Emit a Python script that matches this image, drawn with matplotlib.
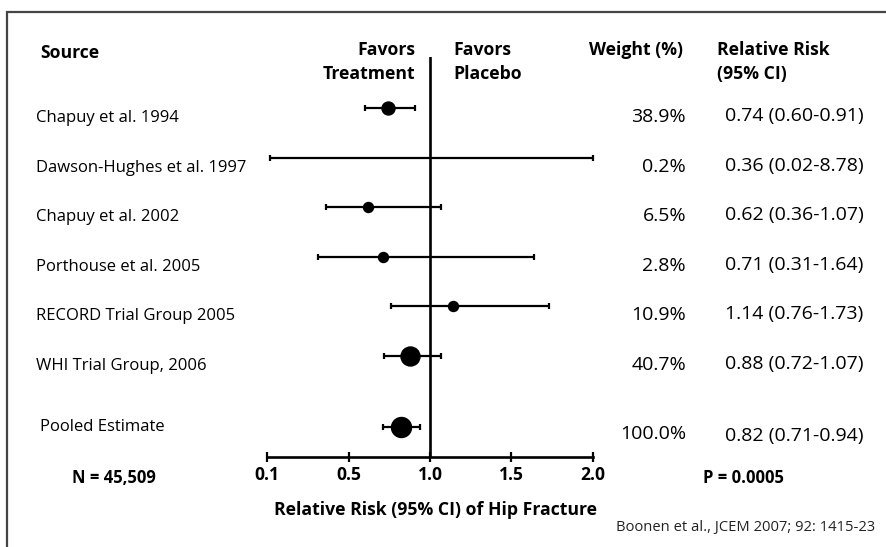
import matplotlib
matplotlib.use("Agg")
import matplotlib.pyplot as plt
from matplotlib.transforms import blended_transform_factory
from matplotlib.patches import Rectangle

# ---------------- data ----------------
sources = ["Chapuy et al. 1994", "Dawson-Hughes et al. 1997", "Chapuy et al. 2002",
           "Porthouse et al. 2005", "RECORD Trial Group 2005", "WHI Trial Group, 2006"]
rr = [0.74, 0.36, 0.62, 0.71, 1.14, 0.88]
ci_low = [0.60, 0.02, 0.36, 0.31, 0.76, 0.72]
ci_high = [0.91, 8.78, 1.07, 1.64, 1.73, 1.07]
weights = [38.9, 0.2, 6.5, 2.8, 10.9, 40.7]

pooled_label = "Pooled Estimate"
pooled_rr = 0.82
pooled_low = 0.71
pooled_high = 0.94
pooled_weight = 100.0

tick_values = [0.0, 0.5, 1.0, 1.5, 2.0]
tick_labels = ["0.1", "0.5", "1.0", "1.5", "2.0"]

n_text = "N = 45,509"
p_text = "P = 0.0005"
xlabel = "Relative Risk (95% CI) of Hip Fracture"
citation = "Boonen et al., JCEM 2007; 92: 1415-23"

# ---------------- style ----------------
marker_px = [13, 0, 10, 10, 10, 19]
pooled_marker_px = 20
FONT = "Open Sans"
plt.rcParams["font.family"] = [FONT, "DejaVu Sans"]

W, H = 887, 547
fig = plt.figure(figsize=(W / 100, H / 100), dpi=100)
fig.patch.set_facecolor("white")

def fx(x):
    return x / W

def fy(y):
    return 1 - y / H

# outer frame (only left and top visible in reference)
fig.patches.append(Rectangle((fx(7), fy(560)), fx(900 - 7), fy(12) - fy(560),
                             transform=fig.transFigure, fill=False,
                             edgecolor="#444444", linewidth=1.6))

ax_left, ax_right, ax_top, ax_bot = 267, 593, 57, 457
ax = fig.add_axes([fx(ax_left), fy(ax_bot), fx(ax_right - ax_left), (ax_bot - ax_top) / H])
ax.set_facecolor("none")

row_pitch = 49.6
pooled_pos = (427 - 108) / row_pitch
ax.set_xlim(0.0, 2.0)
ax.set_ylim((ax_bot - 108) / row_pitch, (ax_top - 108) / row_pitch)

lw = 1.6
for i in range(len(sources)):
    lo = max(ci_low[i], 0.0)
    hi = min(ci_high[i], 2.0)
    ax.plot([lo, hi], [i, i], color="black", lw=lw, solid_capstyle="butt", clip_on=False)
    ax.plot([lo, hi], [i, i], ls="none", marker="|", ms=4.5, mew=lw, color="black", clip_on=False)
    if marker_px[i] > 0:
        ax.plot([rr[i]], [i], "o", color="black", ms=marker_px[i] * 0.72, clip_on=False)

ax.plot([pooled_low, pooled_high], [pooled_pos, pooled_pos], color="black", lw=lw, solid_capstyle="butt")
ax.plot([pooled_low, pooled_high], [pooled_pos, pooled_pos], ls="none", marker="|", ms=4.5, mew=lw, color="black")
ax.plot([pooled_rr], [pooled_pos], "o", color="black", ms=pooled_marker_px * 0.72)

ax.axvline(1.0, color="black", lw=1.9)

for s in ["top", "right", "left"]:
    ax.spines[s].set_visible(False)
ax.spines["bottom"].set_linewidth(1.9)
ax.set_yticks([])
ax.set_xticks(tick_values)
ax.set_xticklabels(tick_labels, fontweight="bold", fontsize=12.6)
ax.tick_params(axis="x", direction="inout", length=7, width=1.6, pad=3)

# ---------------- text ----------------
tr = blended_transform_factory(fig.transFigure, ax.transData)
fs_lab = 12
fs_val = 14
fb = 12.7
for i, s in enumerate(sources):
    ax.text(fx(36), i + 0.2, s, transform=tr, fontsize=fs_lab, va="center", ha="left")
    ax.text(fx(686), i + 0.18, f"{weights[i]:.1f}%", transform=tr, fontsize=fs_val, va="center", ha="right")
    ax.text(fx(725), i + 0.16, f"{rr[i]:.2f} ({ci_low[i]:.2f}-{ci_high[i]:.2f})",
            transform=tr, fontsize=fs_val, va="center", ha="left")

ax.text(fx(40), pooled_pos, pooled_label, transform=tr, fontsize=fs_lab, va="center", ha="left")
ax.text(fx(686), pooled_pos + 0.14, f"{pooled_weight:.1f}%", transform=tr, fontsize=fs_val, va="center", ha="right")
ax.text(fx(725), pooled_pos + 0.18, f"{pooled_rr:.2f} ({pooled_low:.2f}-{pooled_high:.2f})",
        transform=tr, fontsize=fs_val, va="center", ha="left")

# headers
fig.text(fx(40), fy(53), "Source", fontsize=fb, fontweight="bold", va="center", ha="left")
fig.text(fx(415), fy(50), "Favors", fontsize=fb, fontweight="bold", va="center", ha="right")
fig.text(fx(415), fy(74), "Treatment", fontsize=fb, fontweight="bold", va="center", ha="right")
fig.text(fx(453), fy(50), "Favors", fontsize=fb, fontweight="bold", va="center", ha="left")
fig.text(fx(453), fy(74), "Placebo", fontsize=fb, fontweight="bold", va="center", ha="left")
fig.text(fx(683), fy(50), "Weight (%)", fontsize=fb, fontweight="bold", va="center", ha="right")
fig.text(fx(717), fy(50), "Relative Risk", fontsize=fb, fontweight="bold", va="center", ha="left")
fig.text(fx(717), fy(74), "(95% CI)", fontsize=fb, fontweight="bold", va="center", ha="left")

fig.text(fx(114), fy(478), n_text, fontsize=12, fontweight="bold", va="center", ha="center")
fig.text(fx(703), fy(478), p_text, fontsize=12, fontweight="bold", va="center", ha="left")
fig.text(fx(436), fy(510), xlabel, fontsize=fb, fontweight="bold", va="center", ha="center")
fig.text(fx(875), fy(528), citation, fontsize=10.6, va="center", ha="right", color="#222222")

fig.savefig("out.png", dpi=100, facecolor="white")
